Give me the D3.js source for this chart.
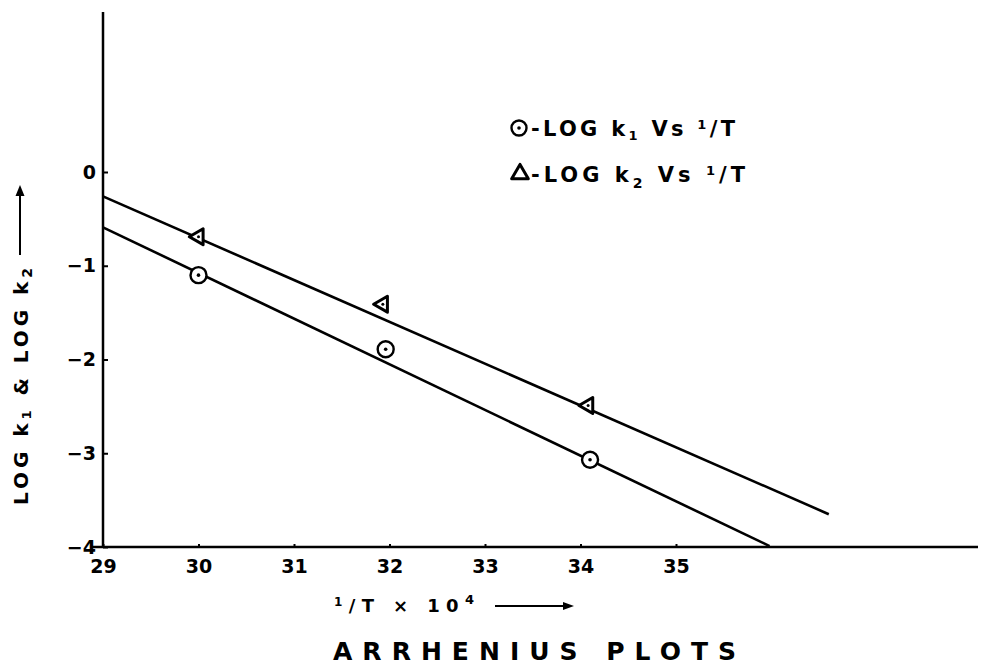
<!DOCTYPE html>
<html lang="en">
<head>
    <meta charset="UTF-8">
    <title>Arrhenius Plots</title>
    <script src="https://cdn.jsdelivr.net/npm/d3@7"></script>
    <style>
        body { margin: 0; background: #fff; }
        text { font-family: 'DejaVu Sans', sans-serif; font-weight: bold; fill: #000; }
    </style>
</head>
<body>
    <svg id="chart" width="981" height="666"></svg>
    <script>
        // Data
        const xTicks = [29, 30, 31, 32, 33, 34, 35]
        const yTicks = [0, -1, -2, -3, -4]
        const k1X = [30.0, 31.96, 34.1]
        const k1Y = [-1.10, -1.89, -3.07]
        const k2X = [30.0, 31.93, 34.08]
        const k2Y = [-0.69, -1.41, -2.49]
        // fitted straight lines (start, end)
        const k1FitX = [29, 35.98]
        const k1FitY = [-0.59, -3.99]
        const k2FitX = [29, 36.6]
        const k2FitY = [-0.26, -3.65]

        const W = 981, H = 666
        const svg = d3.select('#chart')

        const x = d3.scaleLinear().domain([29, 35]).range([103, 676])
        const y = d3.scaleLinear().domain([0, -4]).range([172, 547])

        // Axes
        const xAxis = svg.append('g')
            .attr('transform', `translate(0,${y(-4)})`)
            .call(d3.axisBottom(x).tickValues(xTicks).tickSize(-3).tickPadding(13).tickFormat(d3.format('d')))
        xAxis.select('.domain').remove()
        xAxis.selectAll('.tick line').attr('stroke-width', 2)
        xAxis.selectAll('text').style('font-size', '19px').attr('fill', '#000')
        svg.append('line')
            .attr('x1', x(29) - 12).attr('x2', W - 3)
            .attr('y1', y(-4)).attr('y2', y(-4))
            .attr('stroke', '#000').attr('stroke-width', 2.5)

        const yAxis = svg.append('g')
            .attr('transform', `translate(${x(29)},0)`)
            .call(d3.axisLeft(y).tickValues(yTicks).tickSize(-5).tickPadding(7).tickFormat(d3.format('d')))
        yAxis.select('.domain').remove()
        yAxis.selectAll('.tick line').attr('stroke-width', 2)
        yAxis.selectAll('text').style('font-size', '19px').attr('fill', '#000')
        svg.append('line')
            .attr('x1', x(29)).attr('x2', x(29))
            .attr('y1', y(-4) + 1).attr('y2', 12)
            .attr('stroke', '#000').attr('stroke-width', 2.5)

        // Fitted lines
        const line = d3.line().x(d => x(d[0])).y(d => y(d[1]))
        const fits = [d3.zip(k1FitX, k1FitY), d3.zip(k2FitX, k2FitY)]
        svg.selectAll('.fit').data(fits).enter().append('path')
            .attr('class', 'fit')
            .attr('d', line)
            .attr('fill', 'none').attr('stroke', '#000').attr('stroke-width', 2.6)

        // Markers
        const k1Pts = d3.zip(k1X, k1Y)
        const k2Pts = d3.zip(k2X, k2Y)
        const circ = svg.selectAll('.k1').data(k1Pts).enter().append('g')
            .attr('class', 'k1')
            .attr('transform', d => `translate(${x(d[0])},${y(d[1])})`)
        circ.append('circle').attr('r', 8).attr('fill', '#fff').attr('stroke', '#000').attr('stroke-width', 2.4)
        circ.append('circle').attr('r', 1.8).attr('fill', '#000')

        const tri = d3.symbol().type(d3.symbolTriangle).size(110)
        const trig = svg.selectAll('.k2').data(k2Pts).enter().append('g')
            .attr('class', 'k2')
            .attr('transform', d => `translate(${x(d[0])},${y(d[1])}) rotate(-90)`)
        trig.append('path').attr('d', tri).attr('fill', '#fff').attr('stroke', '#000').attr('stroke-width', 3).attr('stroke-linejoin', 'round')
        trig.append('circle').attr('r', 1.5).attr('fill', '#000')

        // Legend
        const lg1 = svg.append('g').attr('transform', 'translate(519,128)')
        lg1.append('circle').attr('r', 7.5).attr('fill', '#fff').attr('stroke', '#000').attr('stroke-width', 2.4)
        lg1.append('circle').attr('r', 1.8).attr('fill', '#000')
        const lt1 = svg.append('text').attr('x', 531).attr('y', 136)
            .style('font-size', '21px').attr('textLength', 204).attr('lengthAdjust', 'spacing')
        lt1.append('tspan').text('-LOG  k')
        lt1.append('tspan').attr('dy', 4).style('font-size', '13px').text('1')
        lt1.append('tspan').attr('dy', -4).text('  Vs  ')
        lt1.append('tspan').attr('dy', -7).style('font-size', '13px').text('1')
        lt1.append('tspan').attr('dy', 7).text('/T')

        const lg2 = svg.append('g').attr('transform', 'translate(520,174)')
        lg2.append('path').attr('d', d3.symbol().type(d3.symbolTriangle).size(120))
            .attr('fill', '#fff').attr('stroke', '#000').attr('stroke-width', 3).attr('stroke-linejoin', 'round')
        const lt2 = svg.append('text').attr('x', 531).attr('y', 182)
            .style('font-size', '21px').attr('textLength', 214).attr('lengthAdjust', 'spacing')
        lt2.append('tspan').text('-LOG  k')
        lt2.append('tspan').attr('dy', 6).style('font-size', '14px').text('2')
        lt2.append('tspan').attr('dy', -6).text(' Vs  ')
        lt2.append('tspan').attr('dy', -7).style('font-size', '13px').text('1')
        lt2.append('tspan').attr('dy', 7).text('/T')

        // Y axis label (rotated) with arrow
        const yl = svg.append('g').attr('transform', 'translate(28,505) rotate(-90)')
        const ylt = yl.append('text').attr('x', 0).attr('y', 0)
            .style('font-size', '20px').attr('textLength', 237).attr('lengthAdjust', 'spacing')
        ylt.append('tspan').text('LOG  k')
        ylt.append('tspan').attr('dy', 3).style('font-size', '13px').text('1')
        ylt.append('tspan').attr('dy', -3).text('  &  LOG  k')
        ylt.append('tspan').attr('dy', 4).style('font-size', '14px').text('2')
        yl.append('line').attr('x1', 250).attr('x2', 312).attr('y1', -8).attr('y2', -8)
            .attr('stroke', '#000').attr('stroke-width', 2)
        yl.append('path').attr('d', 'M320,-8 L309,-12.5 L309,-3.5 Z').attr('fill', '#000')

        // X axis label with arrow
        const xl = svg.append('text').attr('x', 334).attr('y', 612)
            .style('font-size', '18px').attr('textLength', 140).attr('lengthAdjust', 'spacing')
        xl.append('tspan').attr('dy', -6).style('font-size', '12px').text('1')
        xl.append('tspan').attr('dy', 6).text('/T  × 10')
        xl.append('tspan').attr('dy', -8).style('font-size', '13px').text('4')
        svg.append('line').attr('x1', 495).attr('x2', 565).attr('y1', 606).attr('y2', 606)
            .attr('stroke', '#000').attr('stroke-width', 2)
        svg.append('path').attr('d', 'M574,606 L563,602 L563,610 Z').attr('fill', '#000')

        // Title
        svg.append('text').attr('x', 333).attr('y', 660)
            .style('font-size', '25px').attr('textLength', 403).attr('lengthAdjust', 'spacing')
            .text('ARRHENIUS  PLOTS')
    </script>
</body>
</html>
